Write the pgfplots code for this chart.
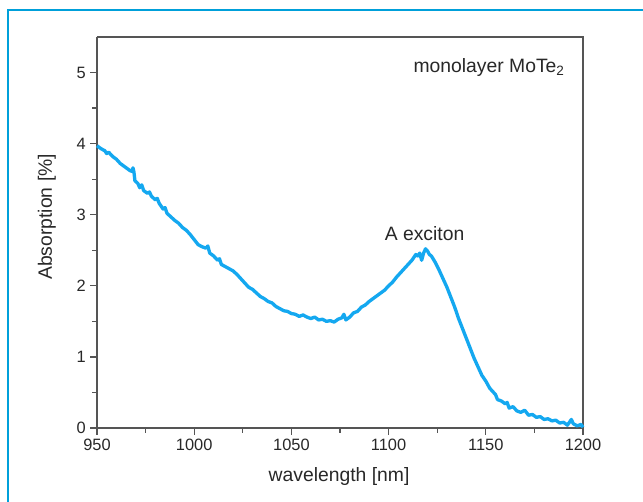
\documentclass[border=0pt]{standalone}
\usepackage{pgfplots}
\pgfplotsset{compat=1.18}
\usepackage{fontspec}
\setmainfont{Liberation Sans}
\definecolor{framecol}{RGB}{0,160,218}
\definecolor{curve}{RGB}{20,168,240}
\definecolor{axgray}{RGB}{85,85,85}
\definecolor{txt}{RGB}{40,40,40}

\begin{document}
\begin{tikzpicture}
\clip (0,0) rectangle (482.25pt,376.5pt);
\fill[white] (0,0) rectangle (482.25pt,376.5pt);
\draw[line width=2.2pt,framecol] (6pt,-10pt) rectangle (500pt,369pt);
\begin{axis}[
  at={(72.75pt,55.5pt)},anchor=south west,
  scale only axis,width=364.5pt,height=293.25pt,
  xmin=950,xmax=1200,ymin=0,ymax=5.5,
  xtick={950,1000,...,1200},ytick={0,1,...,5},
  minor xtick={975,1025,...,1175},minor ytick={0.5,1.5,...,4.5},
  axis x line*=bottom,axis y line*=left,
  separate axis lines,
  every outer x axis line/.append style={-},
  every outer y axis line/.append style={-},
  axis line style={axgray,line width=1.4pt},
  tick style={axgray,line width=1pt},
  major tick length=5pt,minor tick length=3.5pt,
  tick align=outside,
  xticklabel style={font=\fontsize{12.3}{14}\selectfont,text=txt},
  yticklabel style={font=\fontsize{12.3}{14}\selectfont,text=txt},
  /pgf/number format/assume math mode=true,
  /pgf/number format/1000 sep={},
  xlabel={wavelength [nm]},ylabel={Absorption [\%]},
  xlabel style={font=\fontsize{14.5}{16}\selectfont,text=txt,at={(rel axis cs:0.498,-0.123)},anchor=center},
  ylabel style={font=\fontsize{14.5}{16}\selectfont,text=txt,at={(rel axis cs:-0.103,0.54)},anchor=center},
  clip=false,
]
% top and right box lines
\draw[axgray,line width=1.4pt] (rel axis cs:0,1) -- (rel axis cs:1,1) -- (rel axis cs:1,0);
\addplot[curve,line width=2.5pt,line join=round] coordinates {
(950,3.97) (952,3.93) (954,3.90) (955,3.86) (956,3.88) (958,3.82) (960,3.78)
(962,3.72) (964,3.68) (966,3.64) (967,3.62) (968,3.61) (968.5,3.66) (969,3.60)
(969.5,3.48) (971,3.44) (972,3.38) (973,3.42) (974,3.34) (976,3.30) (977,3.32) (978,3.26)
(980,3.21) (981,3.23) (982,3.16) (984,3.08) (985,3.10) (986,3.02) (988,2.97) (990,2.92) (992,2.88)
(994,2.82) (996,2.78) (998,2.72) (1000,2.65) (1002,2.58) (1004,2.55) (1006,2.53)
(1007,2.56) (1008,2.46) (1010,2.42) (1012,2.36) (1013,2.38) (1014,2.30) (1016,2.27) (1018,2.24)
(1020,2.21) (1022,2.16) (1024,2.10) (1026,2.04) (1028,1.98) (1030,1.95) (1032,1.90)
(1034,1.85) (1036,1.82) (1038,1.78) (1040,1.76) (1042,1.71) (1044,1.68) (1046,1.65)
(1048,1.64) (1050,1.61) (1052,1.60) (1054,1.57) (1056,1.59) (1058,1.56) (1060,1.54)
(1062,1.56) (1064,1.52) (1066,1.53) (1068,1.50) (1070,1.51) (1072,1.49) (1074,1.53)
(1076,1.55) (1077,1.60) (1078,1.52) (1080,1.56) (1082,1.62) (1084,1.64) (1086,1.70)
(1088,1.73) (1090,1.78) (1092,1.82) (1094,1.86) (1096,1.90) (1098,1.94) (1100,2.00)
(1102,2.05) (1104,2.12) (1106,2.18) (1108,2.24) (1110,2.30) (1112,2.36) (1114,2.44)
(1115,2.42) (1116,2.46) (1117,2.36) (1118,2.46) (1119,2.52) (1120,2.49) (1121,2.44)
(1122,2.42) (1124,2.33) (1126,2.22) (1128,2.10) (1130,1.98) (1132,1.84) (1134,1.70)
(1136,1.54) (1138,1.40) (1140,1.26) (1142,1.12) (1144,0.98) (1146,0.86) (1148,0.74)
(1150,0.66) (1152,0.56) (1154,0.50) (1155,0.47) (1156,0.40) (1158,0.38) (1160,0.34)
(1161,0.36) (1162,0.28) (1164,0.30) (1166,0.24) (1168,0.22) (1170,0.25) (1172,0.18)
(1174,0.19) (1176,0.15) (1178,0.16) (1180,0.12) (1182,0.13) (1184,0.10) (1186,0.11)
(1188,0.07) (1190,0.08) (1192,0.04) (1194,0.12) (1195,0.06) (1197,0.03) (1199,0.05)
(1200,0.01)
};
\node[anchor=east,text=txt,font=\fontsize{14.5}{16}\selectfont] at (axis cs:1193,5.07) {monolayer MoTe\textsubscript{2}};
\node[text=txt,font=\fontsize{14.5}{16}\selectfont] at (axis cs:1118.5,2.74) {A exciton};
\end{axis}
\end{tikzpicture}
\end{document}
